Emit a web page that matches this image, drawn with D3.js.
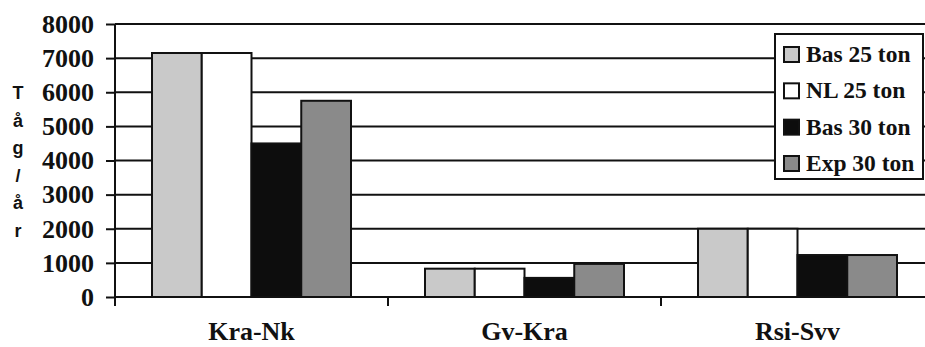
<!DOCTYPE html>
<html><head><meta charset="utf-8">
<script src="https://cdn.jsdelivr.net/npm/d3@7"></script>
</head><body style="margin:0">
<svg id="c" width="925" height="347"></svg>
<script>
const categories = ["Kra-Nk", "Gv-Kra", "Rsi-Svv"];
const seriesNames = ["Bas 25 ton", "NL 25 ton", "Bas 30 ton", "Exp 30 ton"];
const bas25 = [7150, 830, 2000];
const nl25 = [7150, 830, 2000];
const bas30 = [4500, 560, 1230];
const exp30 = [5750, 970, 1230];
const yTicks = [0, 1000, 2000, 3000, 4000, 5000, 6000, 7000, 8000];
const yTitle = ["T", "å", "g", "/", "å", "r"];
const fills = ["#c9c9c9", "#ffffff", "#0d0d0d", "#8a8a8a"];

const values = [bas25, nl25, bas30, exp30];
const SERIF = "Liberation Serif";
const svg = d3.select("#c");
const pLeft = 115, pBottom = 297, pTop = 24, pRight = 934;
const y = d3.scaleLinear().domain([0, 8000]).range([pBottom, pTop]);
const x = d3.scaleBand().domain(categories).range([pLeft, pRight]);
const xs = d3.scaleBand().domain(seriesNames).range([37, 236]);

// gridlines
svg.append("g").selectAll("line").data(yTicks.filter(d => d > 0)).join("line")
  .attr("x1", pLeft).attr("x2", 925).attr("y1", d => y(d)).attr("y2", d => y(d))
  .attr("stroke", "#111").attr("stroke-width", 2);

// bars
const g = svg.append("g");
categories.forEach((c, ci) => {
  seriesNames.forEach((s, si) => {
    const v = values[si][ci];
    g.append("rect")
      .attr("x", x(c) + xs(s)).attr("width", xs.bandwidth())
      .attr("y", y(v)).attr("height", pBottom - y(v))
      .attr("fill", fills[si]).attr("stroke", "#111").attr("stroke-width", 2);
  });
});

// y axis
const yAxis = d3.axisLeft(y).tickValues(yTicks).tickSize(9).tickPadding(12).tickFormat(d3.format("d"));
const ya = svg.append("g").attr("transform", `translate(${pLeft},0)`).call(yAxis);
ya.attr("font-family", SERIF).attr("font-size", 26).attr("font-weight", "bold");
ya.select(".domain").attr("stroke", "#111").attr("stroke-width", 2).attr("d", `M0,${pTop}V${pBottom + 9}`);
ya.selectAll(".tick line").attr("stroke", "#111").attr("stroke-width", 2);
ya.selectAll(".tick text").attr("fill", "#111").attr("dy", "0.32em");

// x axis
const xa = svg.append("g").attr("transform", `translate(0,${pBottom})`);
xa.append("line").attr("x1", pLeft).attr("x2", 925).attr("y1", 0).attr("y2", 0)
  .attr("stroke", "#111").attr("stroke-width", 2);
xa.selectAll(".tk").data(categories).join("line").attr("class", "tk")
  .attr("x1", d => x(d)).attr("x2", d => x(d)).attr("y1", 0).attr("y2", 9)
  .attr("stroke", "#111").attr("stroke-width", 2);
xa.selectAll("text").data(categories).join("text")
  .attr("x", d => x(d) + x.bandwidth() / 2).attr("y", 43)
  .attr("text-anchor", "middle")
  .attr("font-family", SERIF).attr("font-weight", "bold").attr("font-size", 26).attr("fill", "#111")
  .text(d => d);

// y title stacked
svg.append("g").selectAll("text").data(yTitle).join("text")
  .attr("x", 18).attr("y", (d, i) => 99 + i * 27.5)
  .attr("text-anchor", "middle")
  .attr("font-family", "Liberation Sans").attr("font-weight", "bold").attr("font-size", 18).attr("fill", "#111")
  .text(d => d);

// legend
const lg = svg.append("g");
lg.append("rect").attr("x", 775).attr("y", 34).attr("width", 148).attr("height", 145)
  .attr("fill", "#fff").attr("stroke", "#111").attr("stroke-width", 2);
const rowY = d3.scalePoint().domain(seriesNames).range([62, 171]);
seriesNames.forEach((s, i) => {
  lg.append("rect").attr("x", 784).attr("y", rowY(s) - 15).attr("width", 15).attr("height", 15)
    .attr("fill", fills[i]).attr("stroke", "#111").attr("stroke-width", 2);
  lg.append("text").attr("x", 806).attr("y", rowY(s))
    .attr("font-family", SERIF).attr("font-weight", "bold").attr("font-size", 23.5).attr("fill", "#111")
    .text(s);
});
</script>
</body></html>
